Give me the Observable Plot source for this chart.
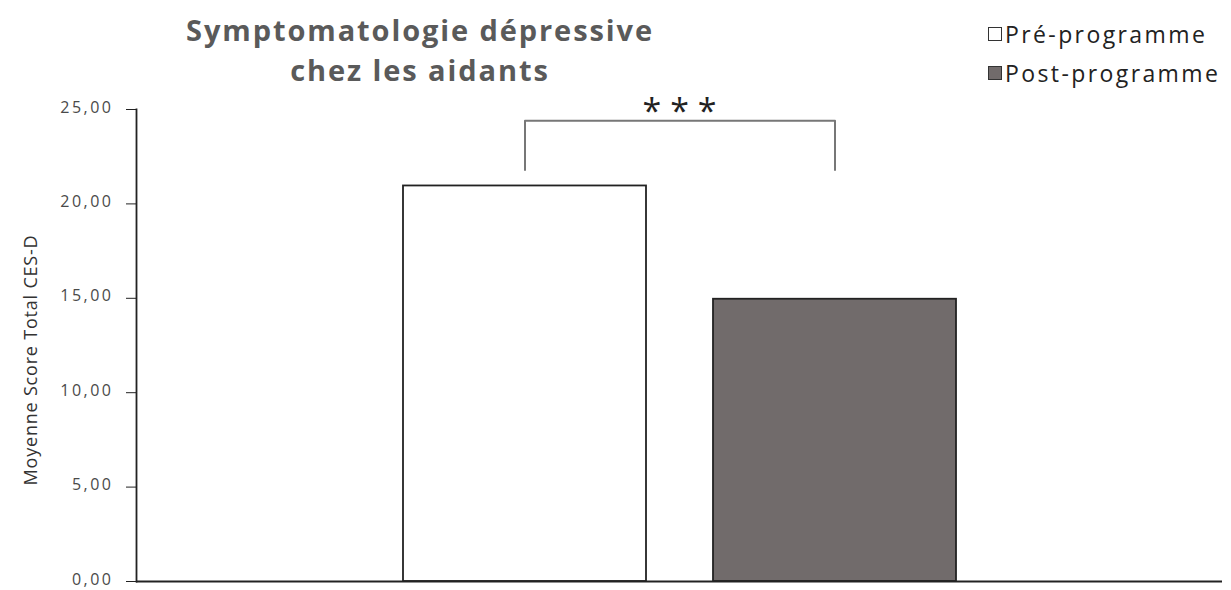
<!DOCTYPE html>
<html>
<head>
<meta charset="utf-8">
<script src="https://cdn.jsdelivr.net/npm/d3@7"></script>
<script src="https://cdn.jsdelivr.net/npm/@observablehq/plot@0.6"></script>
<style>
  html, body { margin: 0; padding: 0; background: #fff; }
  #wrap { position: relative; width: 1231px; height: 590px; font-family: "Open Sans", sans-serif; }
  #title { position: absolute; left: 100px; width: 640px; top: 10px; text-align: center; font-weight: bold; font-size: 29px; line-height: 40px; color: #5a5a5a; letter-spacing: 1.9px; }
  #legend { position: absolute; left: 988px; top: 14px; font-size: 23px; color: #222; letter-spacing: 2.4px; }
  .li { display: flex; align-items: center; height: 39px; }
  .sw { width: 14px; height: 14px; border: 1.5px solid #333; margin-right: 3px; box-sizing: border-box; }
  #ylab { position: absolute; left: 30px; top: 360px; transform: translate(-50%, -50%) rotate(-90deg); white-space: nowrap; font-size: 18px; letter-spacing: 0.8px; color: #333; }
  #chart svg g[aria-label="y-axis tick label"] text { letter-spacing: 2.5px; }
</style>
</head>
<body>
<div id="wrap">
  <div id="chart"></div>
  <div id="title">Symptomatologie dépressive<br>chez les aidants</div>
  <div id="legend"></div>
  <div id="ylab">Moyenne Score Total CES-D</div>
</div>
<script>
const categories = ["Pré-programme", "Post-programme"];
const values = [20.95, 14.95];
const colors = ["#ffffff", "#716b6b"];
const yTicks = [0, 5, 10, 15, 20, 25];
const bracketY = [21.8, 24.4];
const significance = "* * *";

const data = categories.map((c, i) => ({cat: c, value: values[i]}));
const bracket = [
  {cat: categories[0], y: bracketY[0]},
  {cat: categories[0], y: bracketY[1]},
  {cat: categories[1], y: bracketY[1]},
  {cat: categories[1], y: bracketY[0]}
];

const fmt = d => d.toFixed(2).replace(".", ",");

const chart = Plot.plot({
  width: 1231,
  height: 590,
  marginLeft: 136,
  marginRight: 9,
  marginTop: 109,
  marginBottom: 9,
  style: {fontFamily: "Open Sans, sans-serif", background: "#fff", fontSize: "15px"},
  x: {domain: categories, paddingInner: 0.217, paddingOuter: 0.8545, axis: null},
  y: {domain: [0, 25], ticks: yTicks, tickFormat: fmt, label: null, axis: null},
  color: {domain: categories, range: colors},
  marks: [
    Plot.barY(data, {x: "cat", y: "value", fill: "cat", stroke: "#222", strokeWidth: 1.8}),
    Plot.line(bracket, {x: "cat", y: "y", stroke: "#777", strokeWidth: 2}),
    Plot.text([significance], {frameAnchor: "top", dy: -11, text: d => d, fontSize: 34, fill: "#222"}),
    Plot.axisY({ticks: yTicks, tickFormat: () => "", tickSize: 10, stroke: "#222", label: null}),
    Plot.axisY({ticks: yTicks, tickFormat: fmt, tickSize: 0, tickPadding: 23, fontSize: 16, dy: -2, fill: "#4a4a4a", label: null}),
    Plot.frame({anchor: "left", stroke: "#222", strokeWidth: 1.8}),
    Plot.ruleY([0], {stroke: "#222", strokeWidth: 1.8})
  ]
});
document.getElementById("chart").appendChild(chart);

const lg = document.getElementById("legend");
categories.forEach((c, i) => {
  const row = document.createElement("div");
  row.className = "li";
  const sw = document.createElement("span");
  sw.className = "sw";
  sw.style.background = colors[i];
  const t = document.createElement("span");
  t.textContent = c;
  row.appendChild(sw);
  row.appendChild(t);
  lg.appendChild(row);
});
</script>
</body>
</html>
